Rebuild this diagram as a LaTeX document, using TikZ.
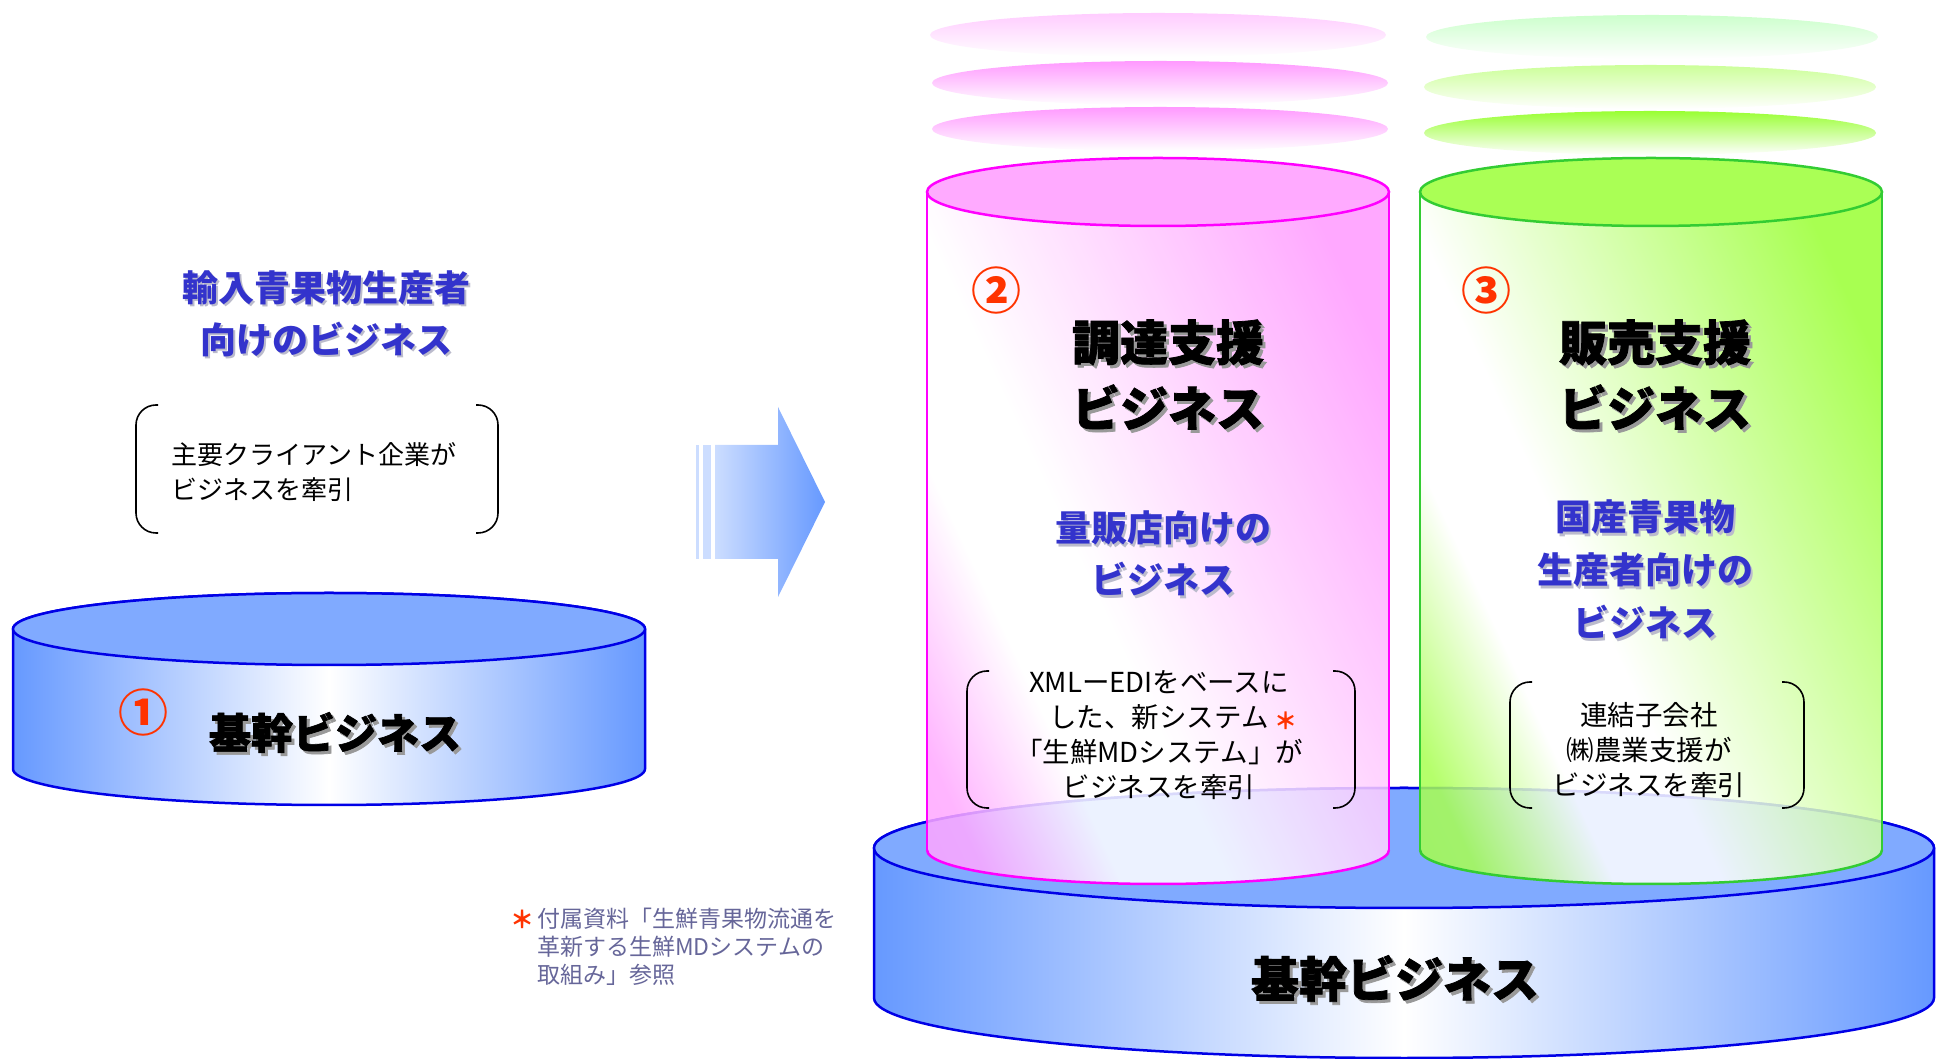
\documentclass[tikz,border=0pt]{standalone}
\usepackage{fontspec}
\setmainfont{Noto Sans CJK JP}
\newfontfamily\heavyfont{Noto Sans CJK JP}[BoldFeatures={FakeBold=1.6}]
\definecolor{bstroke}{HTML}{0000E6}
\definecolor{btop}{HTML}{80AAFF}
\definecolor{bside}{HTML}{6699FF}
\definecolor{pkstroke}{HTML}{FF00FF}
\definecolor{pktop}{HTML}{FFAAFF}
\definecolor{pkB}{HTML}{FF99FF}
\definecolor{pkL}{HTML}{FFCCFF}
\definecolor{gnstroke}{HTML}{33CC33}
\definecolor{gntop}{HTML}{AAFF55}
\definecolor{gnB}{HTML}{99FF33}
\definecolor{gnM}{HTML}{CCFF99}
\definecolor{gnL}{HTML}{CCFFCC}
\definecolor{arL}{HTML}{CCDDFF}
\definecolor{arR}{HTML}{6699FF}
\definecolor{titleblue}{HTML}{3333CC}
\definecolor{numred}{HTML}{FF3300}
\definecolor{notecol}{HTML}{666699}
\definecolor{shgray}{HTML}{999999}
\definecolor{shlight}{HTML}{BBBBCC}
\pgfdeclarehorizontalshading{pinkside}{100bp}{color(0bp)=(pkB); color(22bp)=(pkB!85); color(33bp)=(white); color(42bp)=(white); color(75bp)=(pkB); color(100bp)=(pkB)}
\pgfdeclarehorizontalshading{greenside}{100bp}{color(0bp)=(gnB); color(22bp)=(gnB!85); color(33bp)=(white); color(42bp)=(white); color(75bp)=(gnB); color(100bp)=(gnB)}
\newcommand\shk[1]{\leavevmode\rlap{\hspace{3pt}\raisebox{-3pt}{\textcolor{shgray}{#1}}}#1}
\newcommand\shb[1]{\leavevmode\rlap{\hspace{2.5pt}\raisebox{-2.5pt}{\textcolor{shlight}{#1}}}#1}
\tikzset{
  bigblack/.style={font=\heavyfont\bfseries\fontsize{48}{66}\selectfont, text=black, align=center, inner sep=0},
  bluetitle/.style={font=\bfseries\fontsize{36}{52}\selectfont, text=titleblue, align=center, inner sep=0},
  bodytext/.style={font=\fontsize{27.5}{35}\selectfont, text=black, align=center, inner sep=0},
  circnum/.style={font=\bfseries\fontsize{50}{50}\selectfont, text=numred, inner sep=0},
  brk/.style={draw=black, line width=1.6pt, rounded corners=20pt},
  cylstroke/.style={line width=2.5pt},
}
\begin{document}
\begin{tikzpicture}[x=1pt,y=1pt]
\useasboundingbox (0,0) rectangle (1944,1058);
% floating ellipses pink
\shade[top color=pkL, bottom color=white] (1158,1023) ellipse [x radius=228, y radius=22];
\shade[top color=pkB, bottom color=white] (1160,975) ellipse [x radius=228, y radius=22];
\shade[top color=pkB, bottom color=white] (1160,929) ellipse [x radius=228, y radius=22];
% floating ellipses green
\shade[top color=gnL, bottom color=white] (1652,1021) ellipse [x radius=226, y radius=22];
\shade[top color=gnM, bottom color=white] (1650,971) ellipse [x radius=226, y radius=22];
\shade[top color=gnB, bottom color=white] (1650,925) ellipse [x radius=226, y radius=22];
% left cylinder
\shadedraw[draw=bstroke, cylstroke, left color=bside, right color=bside, middle color=white]
  (13,429) -- (13,289) arc[start angle=180, end angle=360, x radius=316, y radius=36] -- (645,429)
  arc[start angle=0, end angle=180, x radius=316, y radius=36] -- cycle;
\filldraw[fill=btop, draw=bstroke, cylstroke] (329,429) ellipse [x radius=316, y radius=36];
% base cylinder
\shadedraw[draw=bstroke, cylstroke, left color=bside, right color=bside, middle color=white]
  (874,210) -- (874,60) arc[start angle=180, end angle=360, x radius=530, y radius=60] -- (1934,210)
  arc[start angle=0, end angle=180, x radius=530, y radius=60] -- cycle;
\filldraw[fill=btop, draw=bstroke, cylstroke] (1404,210) ellipse [x radius=530, y radius=60];
% pink cylinder
\shade[shading=pinkside, shading angle=25, fill opacity=0.85]
  (927,866) -- (927,208) arc[start angle=180, end angle=360, x radius=231, y radius=34] -- (1389,866)
  arc[start angle=0, end angle=180, x radius=231, y radius=34] -- cycle;
\draw[draw=pkstroke, line width=1.5pt] (927,866) -- (927,208) (1389,208) -- (1389,866);
\draw[draw=pkstroke, cylstroke] (927,208) arc[start angle=180, end angle=360, x radius=231, y radius=34];
\filldraw[fill=pktop, draw=pkstroke, cylstroke] (1158,866) ellipse [x radius=231, y radius=34];
% green cylinder
\shade[shading=greenside, shading angle=25, fill opacity=0.85]
  (1420,866) -- (1420,208) arc[start angle=180, end angle=360, x radius=231, y radius=34] -- (1882,866)
  arc[start angle=0, end angle=180, x radius=231, y radius=34] -- cycle;
\draw[draw=gnstroke, line width=1.5pt] (1420,866) -- (1420,208) (1882,208) -- (1882,866);
\draw[draw=gnstroke, cylstroke] (1420,208) arc[start angle=180, end angle=360, x radius=231, y radius=34];
\filldraw[fill=gntop, draw=gnstroke, cylstroke] (1651,866) ellipse [x radius=231, y radius=34];
% arrow
\fill[arL] (696,499) rectangle (699,613);
\fill[arL] (703,499) rectangle (711,613);
\shade[left color=arL, right color=arR] (715,499) -- (715,613) -- (778,613) -- (778,651) -- (825,556) -- (778,461) -- (778,499) -- cycle;
% left texts
\node[bluetitle] (t1) at (326,743) {\shb{輸入青果物生産者}\\\shb{向けのビジネス}};
\draw[brk] (158,653) -- (136,653) -- (136,525) -- (158,525);
\draw[brk] (476,653) -- (498,653) -- (498,525) -- (476,525);
\node[font=\fontsize{26}{35}\selectfont, align=left, anchor=west, inner sep=0] (b1) at (171,586) {主要クライアント企業が\\ビジネスを牽引};
\node[circnum] (n1) at (143,345) {①};
\node[bigblack, font=\heavyfont\bfseries\fontsize{42}{50}\selectfont] (k1) at (335,324) {\shk{基幹ビジネス}};
% pink texts
\node[circnum] (n2) at (996,767) {②};
\node[bigblack] (k2) at (1168,682) {\shk{調達支援}\\\shk{ビジネス}};
\node[bluetitle] (t2) at (1163,503) {\shb{量販店向けの}\\\shb{ビジネス}};
\draw[brk] (989,387) -- (967,387) -- (967,250) -- (989,250);
\draw[brk] (1333,387) -- (1355,387) -- (1355,250) -- (1333,250);
\node[bodytext] (b2) at (1159,323) {XMLーEDIをベースに\\した、新システム\\「生鮮MDシステム」が\\ビジネスを牽引};
\node[font=\bfseries\fontsize{23}{23}\selectfont, text=numred, inner sep=0] (ast1) at (1286,337) {＊};
% green texts
\node[circnum] (n3) at (1486,767) {③};
\node[bigblack] (k3) at (1655,682) {\shk{販売支援}\\\shk{ビジネス}};
\node[bluetitle, font=\bfseries\fontsize{36}{53}\selectfont] (t3) at (1645,487) {\shb{国産青果物}\\\shb{生産者向けの}\\\shb{ビジネス}};
\draw[brk] (1532,376) -- (1510,376) -- (1510,250) -- (1532,250);
\draw[brk] (1782,376) -- (1804,376) -- (1804,250) -- (1782,250);
\node[bodytext] (b3) at (1649,308) {連結子会社\\㈱農業支援が\\ビジネスを牽引};
% base text
\node[bigblack] (k4) at (1395,78) {\shk{基幹ビジネス}};
% footnote
\node[font=\bfseries\fontsize{24}{24}\selectfont, text=numred, inner sep=0] (ast2) at (522,139) {＊};
\node[font=\fontsize{23}{28}\selectfont, text=notecol, align=left, anchor=west, inner sep=0] (fn) at (537,111) {付属資料「生鮮青果物流通を\\革新する生鮮MDシステムの\\取組み」参照};
\end{tikzpicture}
\end{document}
